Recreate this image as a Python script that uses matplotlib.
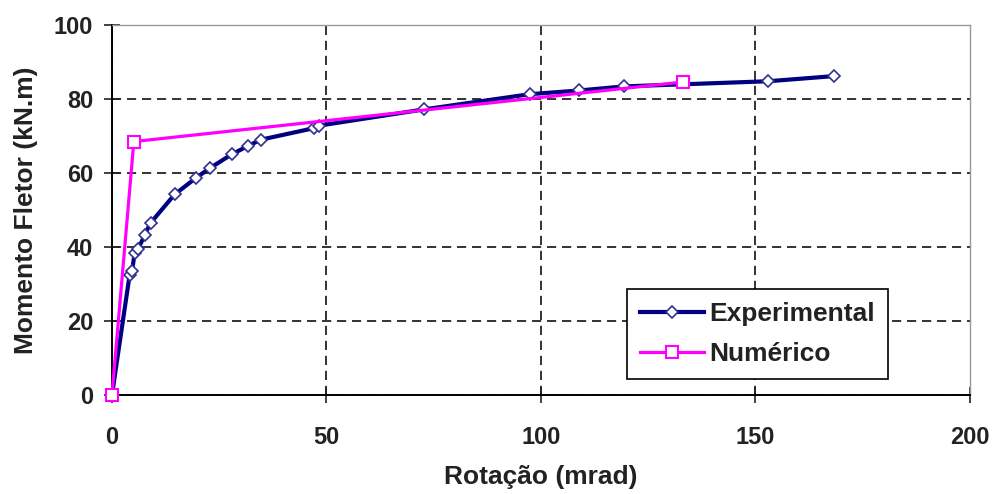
import matplotlib.pyplot as plt

plt.rcParams['font.family'] = ['Liberation Sans', 'DejaVu Sans']

# experimental curve (rotation in mrad, moment in kN.m)
rot_exp = [0, 4.1, 4.7, 5.3, 6.1, 7.6, 9.0, 14.6, 19.5, 22.8, 28.0, 31.7, 34.7,
           47.0, 48.3, 72.8, 97.4, 108.9, 119.3, 153.0, 168.4]
mom_exp = [0, 32.3, 33.6, 38.5, 39.4, 43.2, 46.5, 54.2, 58.6, 61.3, 65.1, 67.3, 69.0,
           72.1, 72.8, 77.2, 81.3, 82.3, 83.4, 84.8, 86.2]

# numerical model
rot_num = [0, 5.1, 133.2]
mom_num = [0, 68.5, 84.6]

xticks = [0, 50, 100, 150, 200]
yticks = [0, 20, 40, 60, 80, 100]

fig = plt.figure(figsize=(9.97, 4.94), dpi=100)
ax = fig.add_axes([0.1123, 0.2004, 0.8606, 0.749])

ax.plot(rot_exp, mom_exp, color='#000080', lw=3, marker='D', ms=6.5,
        mfc='white', mec='#303090', mew=1.2, label='Experimental', zorder=3, clip_on=False)
ax.plot(rot_num, mom_num, color='#ff00ff', lw=2.3, marker='s', ms=8,
        mfc='white', mec='#ff00ff', mew=1.5, label='Numérico', zorder=4, clip_on=False)

ax.set_xlim(0, 200)
ax.set_ylim(0, 100)
ax.set_xticks(xticks)
ax.set_yticks(yticks)
ax.grid(True, color='#111111', ls=(0, (5.5, 3.5)), lw=1.2)
ax.set_axisbelow(True)
# no dashed line on the outer frame
ax.xaxis.get_gridlines()[-1].set_visible(False)
ax.yaxis.get_gridlines()[-1].set_visible(False)

for s in ['top', 'right']:
    ax.spines[s].set_color('#999999')
    ax.spines[s].set_linewidth(1.0)
for s in ['left', 'bottom']:
    ax.spines[s].set_linewidth(1.4)
ax.tick_params(direction='inout', length=11, width=1.2, labelsize=17, colors='#222222')
ax.tick_params(axis='x', pad=17)
ax.tick_params(axis='y', pad=8)
for lab in ax.get_xticklabels() + ax.get_yticklabels():
    lab.set_fontweight('bold')

ax.set_xlabel('Rotação (mrad)', fontsize=19, fontweight='bold', color='#222222')
ax.set_ylabel('Momento Fletor (kN.m)', fontsize=19, fontweight='bold', color='#222222')
ax.xaxis.set_label_coords(0.5, -0.19)
ax.yaxis.set_label_coords(-0.0862, 0.5)

leg = ax.legend(loc='upper left', bbox_to_anchor=(627 / 997, 1 - 289 / 494),
                bbox_transform=fig.transFigure, borderaxespad=0,
                prop={'weight': 'bold', 'size': 19}, frameon=True, fancybox=False,
                framealpha=1, edgecolor='black', handlelength=2.4, borderpad=0.5,
                labelspacing=0.6, handletextpad=0.2)
leg.get_frame().set_linewidth(1.2)
for t in leg.get_texts():
    t.set_color('#222222')

fig.savefig('out.png', dpi=100)
